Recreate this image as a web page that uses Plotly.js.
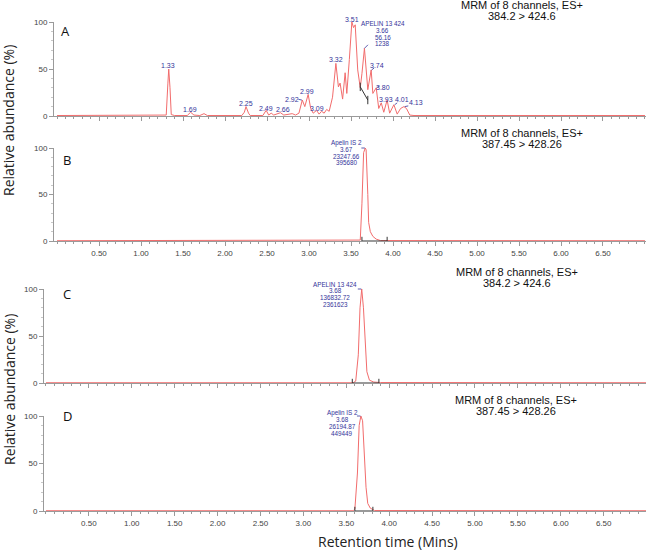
<!DOCTYPE html>
<html><head><meta charset="utf-8">
<script src="https://cdn.plot.ly/plotly-3.0.1.min.js"></script>
<style>html,body{margin:0;padding:0;background:#fff}#chart{width:647px;height:550px}</style>
</head><body><div id="chart"></div>
<script>
// ---------- data ----------
const timeA = [0, 1.25, 1.30, 1.32, 1.33, 1.345, 1.36, 1.40, 1.55, 1.59, 1.63, 1.70, 1.75, 1.79, 2.20, 2.23, 2.25, 2.28, 2.30, 2.45, 2.49, 2.52, 2.55, 2.58, 2.62, 2.66, 2.70, 2.75, 2.80, 2.84, 2.88, 2.92, 2.95, 2.99, 3.02, 3.05, 3.09, 3.12, 3.15, 3.18, 3.21, 3.24, 3.28, 3.32, 3.35, 3.37, 3.40, 3.43, 3.45, 3.48, 3.51, 3.53, 3.55, 3.58, 3.61, 3.63, 3.66, 3.70, 3.74, 3.76, 3.80, 3.83, 3.86, 3.89, 3.93, 3.96, 4.01, 4.05, 4.09, 4.13, 4.16, 4.20, 4.25, 7.0];
const abundA = [0.5, 0.5, 1, 35, 50, 30, 1.5, 0.5, 0.5, 4, 1, 0.5, 2.5, 0.5, 0.5, 4, 10, 3, 0.5, 0.5, 6, 1, 3, 1, 2, 3.5, 1, 1.5, 2.5, 1, 3, 17, 10, 23, 8, 3, 6, 2, 5, 3, 7, 5, 20, 56, 31, 35, 18, 46, 24, 60, 100, 94, 97, 49, 30, 45, 72, 28, 49, 24, 30, 8, 14, 4, 17, 3, 12, 2, 8, 10, 8, 1, 0.5, 0.5];

const timeB = [0, 3.58, 3.61, 3.63, 3.65, 3.67, 3.68, 3.70, 3.71, 3.73, 3.76, 3.80, 3.85, 7.0];
const abundB = [0.3, 0.3, 1, 40, 95, 100, 98, 50, 20, 10, 5, 2, 0.5, 0.3];

const timeC = [0, 3.58, 3.61, 3.64, 3.66, 3.68, 3.70, 3.72, 3.74, 3.77, 3.82, 3.90, 7.0];
const abundC = [0.3, 0.3, 2, 30, 80, 100, 80, 40, 12, 3, 1, 0.5, 0.3];

const timeD = [0, 3.58, 3.60, 3.63, 3.65, 3.67, 3.69, 3.71, 3.73, 3.75, 3.78, 3.83, 7.0];
const abundD = [0.3, 0.3, 2, 40, 90, 100, 95, 60, 25, 8, 3, 0.5, 0.3];

// integration baselines
const intA_t = [3.61, 3.70], intA_y = [31, 17];
const intB_t = [3.63, 3.93], intB_y = [0, 0];
const intC_t = [3.57, 3.88], intC_y = [0, 0];
const intD_t = [3.60, 3.81], intD_y = [0, 0];

// peak labels panel A
const labA = ["1.33", "1.69", "2.25", "2.49", "2.66", "2.92", "2.99", "3.09", "3.32", "3.51", "3.74", "3.80", "3.93", "4.01", "4.13"];
const labA_t = [1.32, 1.58, 2.25, 2.49, 2.69, 2.80, 2.98, 3.10, 3.32, 3.51, 3.81, 3.88, 3.92, 4.11, 4.27];
const labA_y = [54, 7, 13, 8.5, 7, 18, 26, 8.5, 60, 103, 54, 30, 18, 18, 14];

const blockA = ["APELIN 13 424", "3.66", "56.16", "1238"];
const blockA_y = [98, 91, 84, 77];
const blockB = ["Apelin IS 2", "3.67", "23247.66", "395680"];
const blockB_y = [105, 98, 91, 84];
const blockC = ["APELIN 13 424", "3.68", "136832.72", "2361623"];
const blockC_y = [105, 98, 91, 84];
const blockD = ["Apelin IS 2", "3.68", "26194.87", "449449"];
const blockD_y = [103, 96, 89, 82];

const xTickVals = [0.5, 1.0, 1.5, 2.0, 2.5, 3.0, 3.5, 4.0, 4.5, 5.0, 5.5, 6.0, 6.5];
const xTickText = ["0.50", "1.00", "1.50", "2.00", "2.50", "3.00", "3.50", "4.00", "4.50", "5.00", "5.50", "6.00", "6.50"];
const yTickVals = [0, 50, 100];

const panelTitles = [["MRM of 8 channels, ES+", "384.2 > 424.6"], ["MRM of 8 channels, ES+", "387.45 > 428.26"], ["MRM of 8 channels, ES+", "384.2 > 424.6"], ["MRM of 8 channels, ES+", "387.45 > 428.26"]];
const panelLetters = ["A", "B", "C", "D"];

// ---------- layout helpers ----------
const W = 647, H = 550;
const px = v => v / W, py = v => 1 - v / H;
const RED = "#f26c6c", NAVY = "#34349a", AX = "#9a9a9a";
const PXPCT = 0.94; // pixels per percent (panel height / 100)

const traces = [];
function line(t, y, ax, color, extra) {
  traces.push(Object.assign({x: t, y: y, xaxis: ax[0], yaxis: ax[1], type: "scatter", mode: "lines",
    line: {color: color, width: 1}, hoverinfo: "skip", showlegend: false}, extra || {}));
}
line(timeA, abundA, ["x", "y"], RED);
line(timeB, abundB, ["x2", "y2"], RED);
line(timeC, abundC, ["x3", "y3"], RED);
line(timeD, abundD, ["x4", "y4"], RED);
const intMark = {mode: "lines+markers", marker: {symbol: "line-ns-open", size: 6, color: "#333", line: {width: 1, color: "#333"}}};
line(intA_t, intA_y, ["x", "y"], "#333", intMark);
line(intB_t, intB_y, ["x2", "y2"], "#333", intMark);
line(intC_t, intC_y, ["x3", "y3"], "#333", intMark);
line(intD_t, intD_y, ["x4", "y4"], "#333", intMark);

function xAxis(dom, rng, labels, anchor) {
  return {domain: dom, range: rng, anchor: anchor, showgrid: false, zeroline: false, showline: true,
    linecolor: AX, linewidth: 1, ticks: "outside", ticklen: 4, tickcolor: AX, tickwidth: 1,
    tickvals: xTickVals, ticktext: xTickText, showticklabels: labels,
    tickfont: {family: "Liberation Sans, Arial", size: 8, color: "#444"},
    minor: {dtick: 0.1, tick0: 0, ticks: "outside", ticklen: 2, tickcolor: AX, showgrid: false}};
}
function yAxis(dom, anchor) {
  return {domain: dom, range: [0, 100], anchor: anchor, showgrid: false, zeroline: false, showline: true,
    linecolor: AX, linewidth: 1, ticks: "outside", ticklen: 4, tickcolor: AX, tickvals: yTickVals,
    tickfont: {family: "Liberation Sans, Arial", size: 8, color: "#444"},
    minor: {dtick: 10, ticks: "outside", ticklen: 2, tickcolor: "#c8c8c8", showgrid: false}};
}
const domAB = [px(54), px(646)], domCD = [px(44), px(646)];
const rngAB = [-0.036, 7.012], rngCD = [-0.023, 6.993];

const layout = {
  width: W, height: H, margin: {l: 0, r: 0, t: 0, b: 0}, paper_bgcolor: "#fff", plot_bgcolor: "rgba(0,0,0,0)",
  showlegend: false,
  xaxis: xAxis(domAB, rngAB, false, "y"),
  yaxis: yAxis([py(116), py(22)], "x"),
  xaxis2: xAxis(domAB, rngAB, true, "y2"),
  yaxis2: yAxis([py(241), py(148)], "x2"),
  xaxis3: xAxis(domCD, rngCD, false, "y3"),
  yaxis3: yAxis([py(383), py(289)], "x3"),
  xaxis4: xAxis(domCD, rngCD, true, "y4"),
  yaxis4: yAxis([py(511), py(416)], "x4"),
  annotations: []
};
const A = layout.annotations;
const C = {xanchor: "center", yanchor: "middle", showarrow: false};
const lblFont = {family: "Liberation Sans, Arial", size: 7, color: NAVY};
const blkFont = {family: "Liberation Sans, Arial", size: 6.3, color: NAVY};
// label at a data value; values above 100 % are pinned to 100 and shifted in pixels so they stay visible
function dataLabel(s, t, v, xr, yr, font) {
  const over = Math.max(0, v - 100);
  A.push(Object.assign({text: s, x: t, y: Math.min(v, 100), yshift: over * PXPCT, xref: xr, yref: yr, font: font}, C));
}
labA.forEach((s, i) => dataLabel(s, labA_t[i], labA_y[i], "x", "y", lblFont));
function block(txt, ys, t, xr, yr) {
  txt.forEach((s, i) => dataLabel(s, t, ys[i], xr, yr, blkFont));
}
block(blockA, blockA_y, 3.88, "x", "y");
block(blockB, blockB_y, 3.45, "x2", "y2");
block(blockC, blockC_y, 3.37, "x3", "y3");
block(blockD, blockD_y, 3.45, "x4", "y4");

// leader lines from peaks to their labels
function leader(xr, yr, x, y, ax, ay) {
  A.push({text: "", x: x, y: y, xref: xr, yref: yr, showarrow: true, arrowhead: 0, arrowwidth: 0.8,
    arrowcolor: NAVY, ax: ax, ay: ay, standoff: 0, startstandoff: 0});
}
leader("x", "y", 3.66, 72, 5, -5);
leader("x", "y", 3.745, 49, 4, -3);
leader("x", "y", 3.805, 30, 4, -3);
leader("x", "y", 4.02, 12, 4, -3);
leader("x", "y", 4.14, 10, 5, -1);
leader("x", "y", 2.915, 17, -5, -1);
leader("x2", "y2", 3.665, 100, -5, 0);
leader("x3", "y3", 3.675, 100, -5, 0);
leader("x4", "y4", 3.665, 100, -5, 0);

const titleX = [522, 522, 517, 516];
const titleY = [[5, 16], [133, 144], [272, 283], [400, 411]];
panelTitles.forEach((tt, i) => {
  tt.forEach((s, j) => A.push(Object.assign({text: s, x: px(titleX[i]), y: py(titleY[i][j]), xref: "paper", yref: "paper",
    font: {family: "Liberation Sans, Arial", size: 11, color: "#111"}}, C)));
});
const letterPos = [[65, 31], [67, 160], [67, 294], [67, 416]];
panelLetters.forEach((s, i) => A.push(Object.assign({text: s, x: px(letterPos[i][0]), y: py(letterPos[i][1]), xref: "paper", yref: "paper",
  font: {family: "Open Sans, Liberation Sans", size: 13, color: "#111"}}, C)));

const axFont = {family: "Open Sans, Noto Sans", size: 14, color: "#222"};
A.push(Object.assign({text: "Relative abundance (%)", textangle: -90, x: px(9), y: py(121), xref: "paper", yref: "paper", font: axFont}, C));
A.push(Object.assign({text: "Relative abundance (%)", textangle: -90, x: px(9), y: py(390), xref: "paper", yref: "paper", font: axFont}, C));
A.push(Object.assign({text: "Retention time (Mins)", x: px(388), y: py(541), xref: "paper", yref: "paper", font: axFont}, C));

Plotly.newPlot("chart", traces, layout, {staticPlot: true, displayModeBar: false});
</script>
</body></html>
